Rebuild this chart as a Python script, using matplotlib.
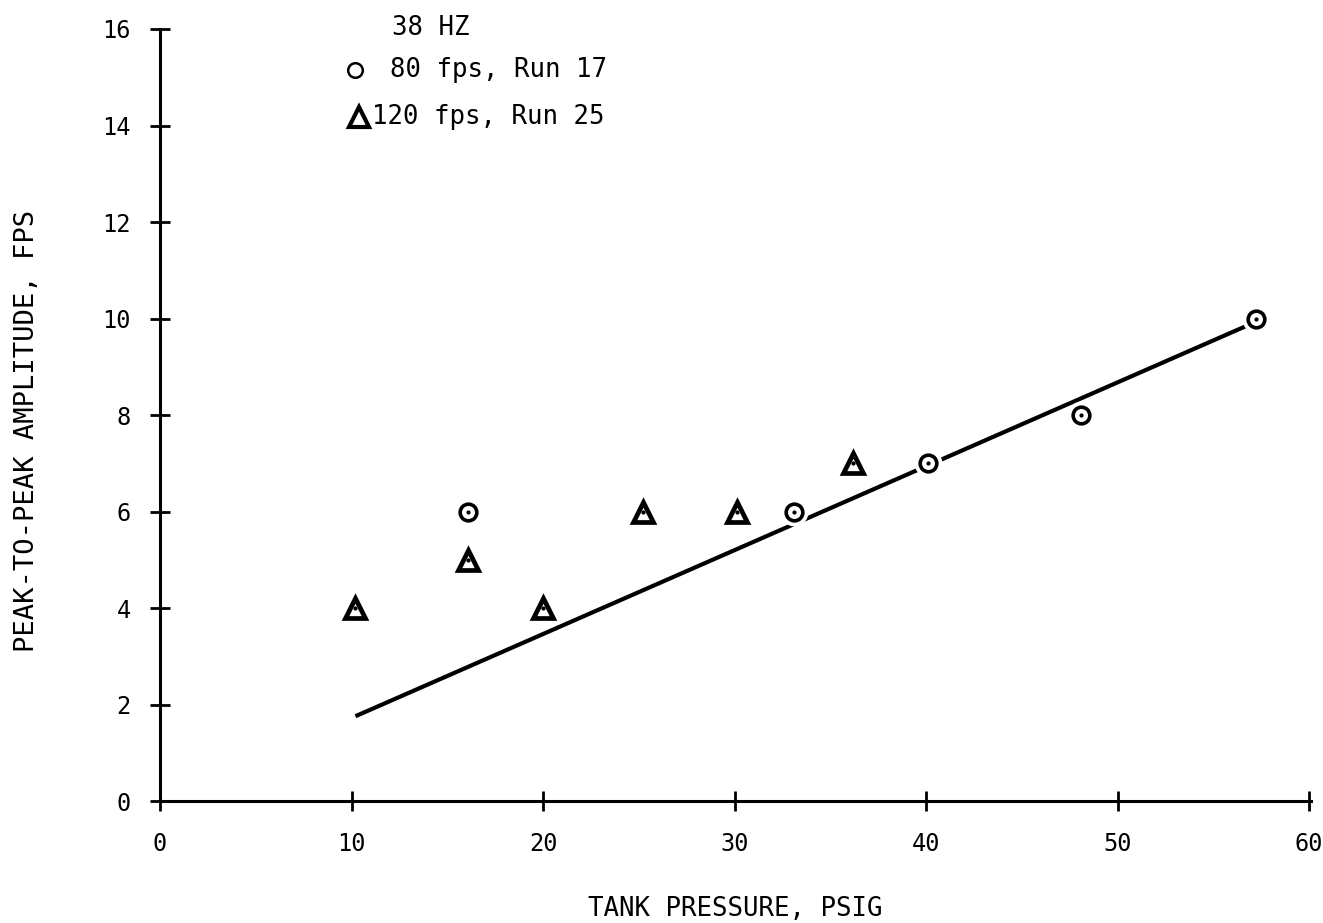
import matplotlib.pyplot as plt
from matplotlib.lines import Line2D

# 80 fps, Run 17 (circles)
p80 = [16.1, 33.1, 40.1, 48.1, 57.2]
a80 = [6, 6, 7, 8, 10]
# 120 fps, Run 25 (triangles)
p120 = [10.2, 16.1, 20.0, 25.2, 30.1, 36.2]
a120 = [4, 5, 4, 6, 6, 7]
# faired line
line_x = [10.2, 57.2]
line_y = [1.76, 9.93]

xticks = [0, 10, 20, 30, 40, 50, 60]
yticks = [0, 2, 4, 6, 8, 10, 12, 14, 16]

plt.rcParams['font.family'] = ['DejaVu Sans Mono', 'DejaVu Sans']

W, H = 1323, 923
fig = plt.figure(figsize=(W / 100, H / 100), dpi=100)
ax = fig.add_axes([0.121, 0.132, 0.870, 0.8366])

ax.plot(line_x, line_y, color='black', lw=3, zorder=2, solid_capstyle='butt')

# white halo so the line breaks at the symbols
ax.plot(p80, a80, 'o', ms=19, mfc='white', mec='white', zorder=3)
ax.plot(p80, a80, 'o', ms=12, mfc='white', mec='black', mew=2.6, zorder=4)
ax.plot(p80, a80, '.', ms=4, color='black', zorder=5)
ax.plot(p120, a120, '^', ms=15, mfc='white', mec='black', mew=3.4, zorder=4)
ax.plot(p120, a120, '.', ms=4, color='black', zorder=5)

ax.set_xlim(0, 60.1)
ax.set_ylim(0, 16)
ax.set_xticks(xticks)
ax.set_yticks(yticks)
ax.tick_params(direction='inout', length=14, width=2, labelsize=17)
ax.tick_params(axis='x', pad=15)
ax.tick_params(axis='y', pad=14)
ax.spines['top'].set_visible(False)
ax.spines['right'].set_visible(False)
for s in ['left', 'bottom']:
    ax.spines[s].set_linewidth(2.2)

ax.set_xlabel('TANK PRESSURE, PSIG', fontsize=18.5)
ax.xaxis.set_label_coords(0.5, -0.123)
ax.set_ylabel('PEAK-TO-PEAK AMPLITUDE, FPS', fontsize=19.5)
ax.yaxis.set_label_coords(-0.104, 0.48)

# key in the upper left
fig.text(392 / W, 1 - 28 / H, '38 HZ', fontsize=18.5, va='center')
fig.add_artist(Line2D([355 / W], [1 - 70 / H], marker='o', ms=10.5, mfc='white',
                      mec='black', mew=1.8, transform=fig.transFigure))
fig.text(390 / W, 1 - 70 / H, '80 fps, Run 17', fontsize=18.5, va='center')
fig.add_artist(Line2D([359 / W], [1 - 117 / H], marker='^', ms=14, mfc='white',
                      mec='black', mew=3, transform=fig.transFigure))
fig.text(372 / W, 1 - 117 / H, '120 fps, Run 25', fontsize=18.5, va='center')

fig.savefig('out.png', dpi=100)
